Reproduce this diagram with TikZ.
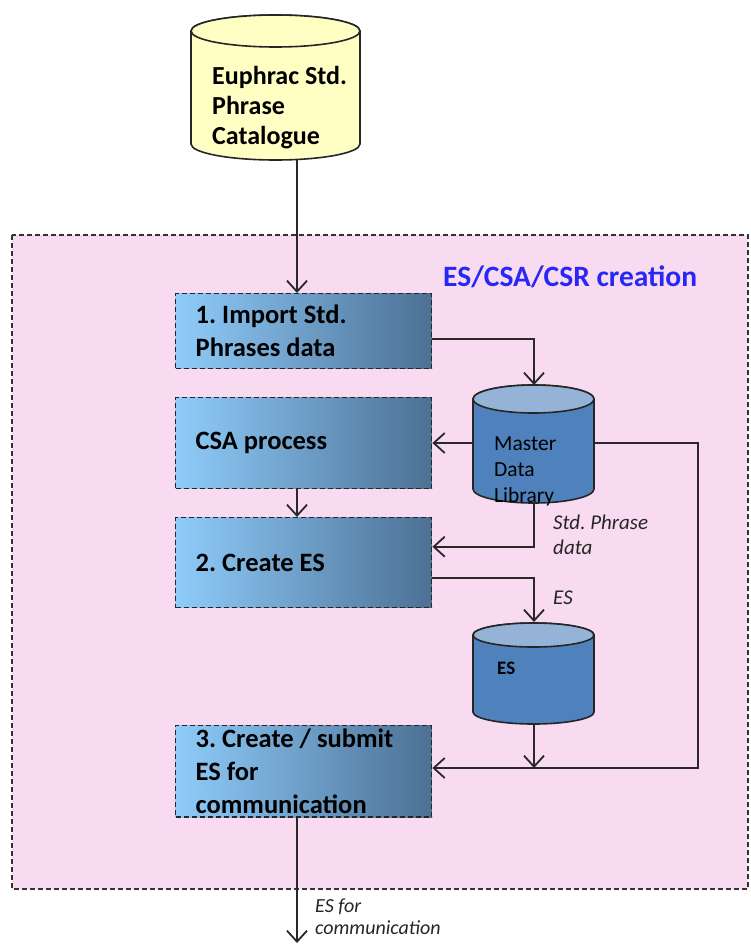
\documentclass[tikz,border=0pt]{standalone}
\usepackage{fontspec}
\setmainfont{Carlito}
\frenchspacing
\usetikzlibrary{arrows.meta}
\definecolor{pinkbg}{RGB}{248,218,241}
\definecolor{cylY}{RGB}{255,255,196}
\definecolor{cylB}{RGB}{79,129,189}
\definecolor{cylBtop}{RGB}{149,179,215}
\definecolor{boxL}{RGB}{143,204,250}
\definecolor{boxR}{RGB}{76,112,148}
\definecolor{titleblue}{RGB}{40,40,245}
\definecolor{ln}{RGB}{40,40,40}
\newcommand\dbcyl[7]{%
  \pgfmathsetmacro\rx{(#2-#1)/2}%
  \draw[cylline, fill=#6] (#1,#3) -- (#1,#4) arc[start angle=180,end angle=0,x radius=\rx,y radius=#5] -- (#2,#3) arc[start angle=0,end angle=-180,x radius=\rx,y radius=#5] -- cycle;
  \draw[cylline, fill=#7] ({(#1+#2)/2},#3) ellipse[x radius=\rx, y radius=#5];
}
\tikzset{
  cylline/.style={draw=black!85, line width=1.6pt},
  procbox/.style={draw=black!85, line width=1.4pt, dash pattern=on 5pt off 3pt,
    left color=boxL, right color=boxR, anchor=north west, minimum width=256pt,
    inner xsep=20pt, text width=216pt, align=flush left,
    font=\bfseries\fontsize{26.5}{33}\selectfont},
  conn/.style={draw=ln, line width=1.8pt, -{Straight Barb[length=11pt,width=20pt,line width=1.8pt]}},
  lbl/.style={anchor=west, align=flush left, inner sep=0pt, font=\itshape\fontsize{21}{25}\selectfont, text=black!85},
}
\begin{document}
\begin{tikzpicture}[x=1pt,y=-1pt]
\useasboundingbox (0,0) rectangle (750,945);
% region
\draw[black!80, line width=1.3pt, dash pattern=on 5pt off 3pt, fill=pinkbg] (12,235) rectangle (748,889);
\node[anchor=west, inner sep=0pt, text=titleblue, font=\bfseries\fontsize{29.5}{34}\selectfont] (title) at (443,277) {ES/CSA/CSR creation};
% catalogue cylinder
\dbcyl{191}{360}{31}{144}{16}{cylY}{cylY}
\node[anchor=west, align=flush left, inner sep=0pt, font=\bfseries\fontsize{26}{30}\selectfont] (cat) at (212,108) {Euphrac Std.\\Phrase\\Catalogue};
\coordinate (catB) at (297,160);
% master data library
\dbcyl{473}{594}{399}{489}{14}{cylB}{cylBtop}
\node[anchor=west, align=flush left, inner sep=0pt, font=\fontsize{21.5}{26}\selectfont] (mdl) at (494,471) {Master\\Data\\Library};
\coordinate (mdlN) at (534,385);
\coordinate (mdlW) at (473,443);
\coordinate (mdlE) at (594,443);
\coordinate (mdlS) at (534,503);
% ES cylinder
\dbcyl{473}{594}{635}{712}{12}{cylB}{cylBtop}
\node[anchor=west, inner sep=0pt, font=\bfseries\fontsize{19}{24}\selectfont] (es) at (497,668) {ES};
\coordinate (esN) at (534,622);
\coordinate (esS) at (534,724);
% process boxes
\node[procbox, minimum height=75pt] (box1) at (175,293) {1. Import Std.\\Phrases data};
\node[procbox, minimum height=91pt] (csa) at (175,397) {CSA process};
\node[procbox, minimum height=90pt] (box2) at (175,517) {2. Create ES};
\node[procbox, minimum height=90pt] (box3) at (175,725) {3. Create / submit\\ES for\\communication};
% connectors
\draw[conn] (catB) -- (catB |- box1.north);
\draw[conn] ([yshift=-7.5pt]box1.east) -| (mdlN);
\draw[conn] (mdlW) -- (mdlW -| csa.east);
\draw[conn] (catB |- csa.south) -- (catB |- box2.north);
\draw[conn] (mdlS) |- ([yshift=16pt]box2.east);
\draw[conn] ([yshift=-15pt]box2.east) -| (esN);
\coordinate (rc) at (698,768);
\draw[conn] (mdlE) -| (rc) -- (rc -| box3.east);
\draw[conn] (esS) -- (esS |- rc);
\coordinate (outEnd) at (297,943);
\draw[conn] (catB |- box3.south) -- (outEnd);
% labels
\node[lbl] (l1) at (553,535) {Std. Phrase\\data};
\node[lbl] (l2) at (553,598) {ES};
\node[lbl, font=\itshape\fontsize{20}{22}\selectfont] (l3) at (315,917) {ES for\\communication};
\end{tikzpicture}
\end{document}
